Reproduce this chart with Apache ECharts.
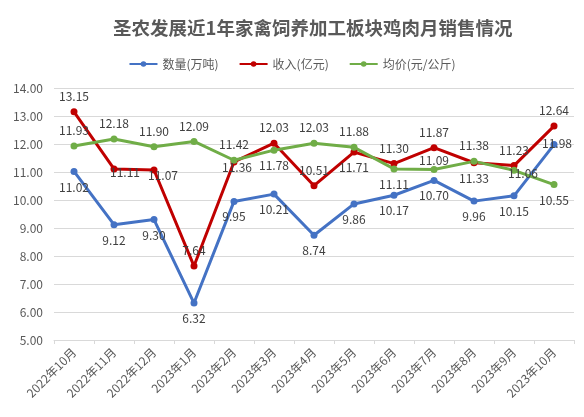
<!DOCTYPE html>
<html>
<head>
<meta charset="utf-8">
<script src="https://cdn.jsdelivr.net/npm/echarts@6/dist/echarts.min.js"></script>
<style>
html,body{margin:0;padding:0;background:#fff;}
#c{width:584px;height:417px;}
</style>
</head>
<body>
<div id="c"></div>
<script>
var categories = ['2022年10月','2022年11月','2022年12月','2023年1月','2023年2月','2023年3月','2023年4月','2023年5月','2023年6月','2023年7月','2023年8月','2023年9月','2023年10月'];
var quantity = [11.02, 9.12, 9.30, 6.32, 9.95, 10.21, 8.74, 9.86, 10.17, 10.70, 9.96, 10.15, 11.98];
var revenue = [13.15, 11.11, 11.07, 7.64, 11.36, 12.03, 10.51, 11.71, 11.30, 11.87, 11.33, 11.23, 12.64];
var price = [11.93, 12.18, 11.90, 12.09, 11.42, 11.78, 12.03, 11.88, 11.11, 11.09, 11.38, 11.06, 10.55];
var seriesNames = ['数量(万吨)', '收入(亿元)', '均价(元/公斤)'];
var yTicks = {min: 5, max: 14, interval: 1};

// label placement per point (layout only)
var qLabel = ['b','b','b','b','b','b','b','b','b','b','b','b',[3,-1]];
var rLabel = ['t',[11,4],[9,5],'t',[3,6],'t','t','b','t','t','b','t','t'];
var pLabel = ['t','t','t','t','t','b','t','t','b',[0,-9],'t',[9,3],'b'];

function build(values, spec) {
  return values.map(function (v, i) {
    var s = spec[i];
    var lab;
    if (s === 't') lab = {position: 'top'};
    else if (s === 'b') lab = {position: 'bottom'};
    else lab = {position: 'inside', offset: s};
    return {value: v, label: lab};
  });
}

var colors = ['#4472C4', '#C00000', '#70AD47'];
var font = '"Noto Sans CJK SC", "Noto Sans", sans-serif';

function mkSeries(name, values, spec, color) {
  return {
    name: name,
    type: 'line',
    data: build(values, spec),
    symbol: 'circle',
    symbolSize: 7,
    showAllSymbol: true,
    lineStyle: {width: 3, color: color},
    itemStyle: {color: color},
    label: {
      show: true,
      distance: 6,
      color: '#404040',
      fontSize: 12,
      fontFamily: font,
      formatter: function (p) { return p.value.toFixed(2); }
    },
    emphasis: {disabled: true},
    animation: false
  };
}

var chart = echarts.init(document.getElementById('c'), null, {renderer: 'canvas'});
chart.setOption({
  backgroundColor: '#ffffff',
  animation: false,
  color: colors,
  title: {
    text: '圣农发展近1年家禽饲养加工板块鸡肉月销售情况',
    left: 108,
    top: 14,
    textStyle: {fontSize: 18.5, fontWeight: 'bold', color: '#595959', fontFamily: font}
  },
  legend: {
    top: 53,
    left: 'center',
    itemWidth: 28,
    itemHeight: 7,
    itemGap: 20,
    textStyle: {fontSize: 12, color: '#595959', fontFamily: font},
    data: seriesNames
  },
  grid: {left: 54, right: 10, top: 88, bottom: 77, containLabel: false},
  xAxis: {
    type: 'category',
    data: categories,
    boundaryGap: true,
    axisLine: {lineStyle: {color: '#d9d9d9', width: 1}},
    axisTick: {show: true, length: 4, lineStyle: {color: '#d9d9d9'}},
    axisLabel: {rotate: 45, interval: 0, margin: 10, fontSize: 12, color: '#595959', fontFamily: font}
  },
  yAxis: {
    type: 'value',
    min: yTicks.min,
    max: yTicks.max,
    interval: yTicks.interval,
    axisLine: {show: false},
    axisTick: {show: false},
    splitLine: {lineStyle: {color: '#d9d9d9', width: 1}},
    axisLabel: {margin: 11, fontSize: 12, color: '#595959', fontFamily: font,
      formatter: function (v) { return v.toFixed(2); }}
  },
  series: [
    mkSeries(seriesNames[0], quantity, qLabel, colors[0]),
    mkSeries(seriesNames[1], revenue, rLabel, colors[1]),
    mkSeries(seriesNames[2], price, pLabel, colors[2])
  ]
});
</script>
</body>
</html>
